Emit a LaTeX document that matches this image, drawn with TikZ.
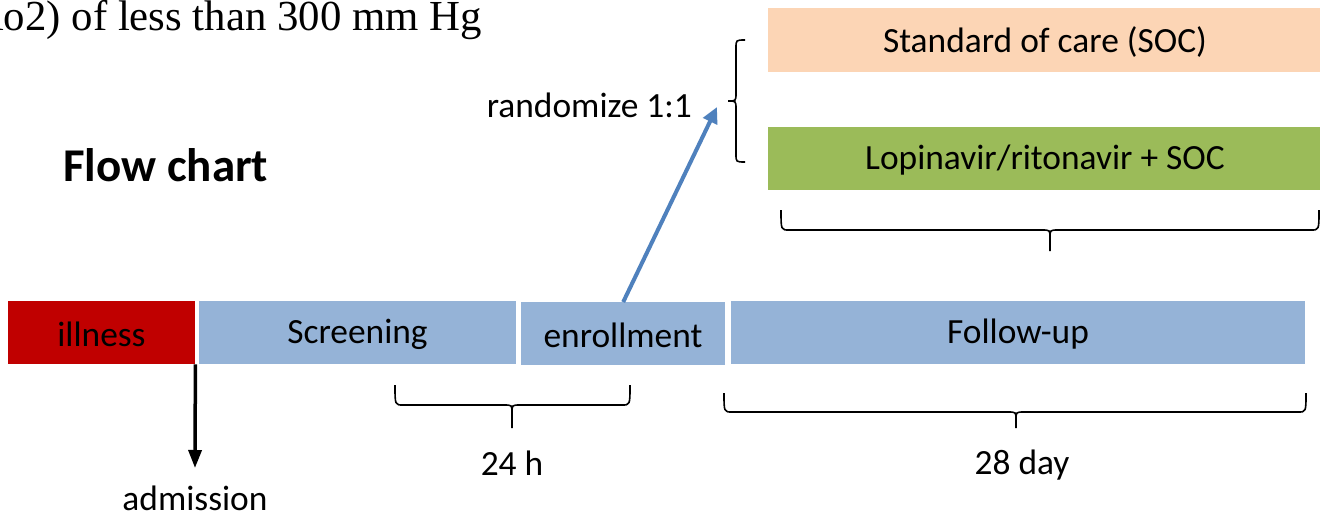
\documentclass[tikz,border=0pt]{standalone}
\usepackage{fontspec}
\setmainfont{Carlito}
\newfontfamily\timesfont{Liberation Serif}
\usetikzlibrary{arrows.meta}
\definecolor{illred}{HTML}{C00000}
\definecolor{phaseblue}{HTML}{95B3D7}
\definecolor{socpeach}{HTML}{FCD5B5}
\definecolor{lpvgreen}{HTML}{9BBB59}
\definecolor{arrowblue}{HTML}{4F81BD}
\newcommand\myhbrace[6]{% x1, x2, xc, ytop, ymid, ybot
  \draw[bracestyle] (#1,-#4) .. controls (#1,-#5) .. ({#1+8},-#5) -- ({#3-8},-#5)
    .. controls (#3,-#5) .. (#3,{-#5-8}) -- (#3,-#6);
  \draw[bracestyle] (#3,{-#5-8}) .. controls (#3,-#5) .. ({#3+8},-#5) -- ({#2-8},-#5)
    .. controls (#2,-#5) .. (#2,-#4);}
\begin{document}
\begin{tikzpicture}[x=1pt,y=1pt,
  every node/.style={font=\fontsize{35.4}{42}\selectfont},
  phase/.style={anchor=north west, inner sep=0pt, minimum height=63pt},
  bracestyle/.style={line width=1.6pt, black},
  lbl/.style={inner sep=0pt}]
\useasboundingbox (0,0) rectangle (1320,-514);
\fill[white] (0,0) rectangle (1320,-514);

% top clipped text
\node[lbl, anchor=base east, font=\timesfont\fontsize{42.8}{50}\selectfont] (crit) at (482,-30) {(Fio2) of less than 300 mm Hg};

% title
\node[lbl, anchor=west, font=\bfseries\fontsize{47}{56}\selectfont] (title) at (63,-165) {Flow chart};

% treatment arms
\node[phase, fill=socpeach, minimum width=560pt, minimum height=64pt] (soc) at (768,-8) {};
\node[lbl] at (1045,-42) {Standard of care (SOC)};
\node[phase, fill=lpvgreen, minimum width=560pt, minimum height=63pt] (lpv) at (768,-127) {};
\node[lbl] at (1045,-160) {Lopinavir/ritonavir + SOC};

% timeline
\node[phase, fill=illred, minimum width=187pt] (ill) at (8,-301) {};
\node[lbl] (illt) at (101.5,-334) {illness};
\node[phase, fill=phaseblue, minimum width=317pt] (scr) at (199,-301) {};
\node[lbl] (scrt) at (357.5,-334) {Screening};
\node[phase, fill=phaseblue, minimum width=204pt] (enr) at (521,-302) {};
\node[lbl] (enrt) at (623,-335) {enrollment};
\node[phase, fill=phaseblue, minimum width=574pt] (fol) at (731,-301) {};
\node[lbl] (folt) at (1018,-334) {Follow-up};

% labels
\node[lbl, anchor=east] (rand) at (692,-105) {randomize 1:1};
\node[lbl] (h24) at (512,-463) {24 h};
\node[lbl] (d28) at (1022,-465) {28 day};
\node[lbl] (adm) at (195,-498) {admission};

% arrows
\coordinate (admtip) at (195,-468);
\draw[line width=3.5pt, -{Triangle[width=13pt,length=18pt]}] (ill.south east) -- (admtip);
\coordinate (randtip) at (717,-107);
\draw[arrowblue, line width=4pt, -{Triangle[width=15pt,length=16pt]}] (enr.north) -- (randtip);

% left brace for randomization
\draw[bracestyle] (745,-40) .. controls (736,-40) .. (736,-48) -- (736,-93)
  .. controls (736,-101) .. (728,-101);
\draw[bracestyle] (728,-101) .. controls (736,-101) .. (736,-109) -- (736,-154)
  .. controls (736,-162) .. (745,-162);

% horizontal braces
\myhbrace{781}{1319}{1050}{210}{230}{251}
\myhbrace{395}{630}{512}{385}{405}{428}
\myhbrace{724}{1306}{1016}{393}{412}{428}
\end{tikzpicture}
\end{document}
